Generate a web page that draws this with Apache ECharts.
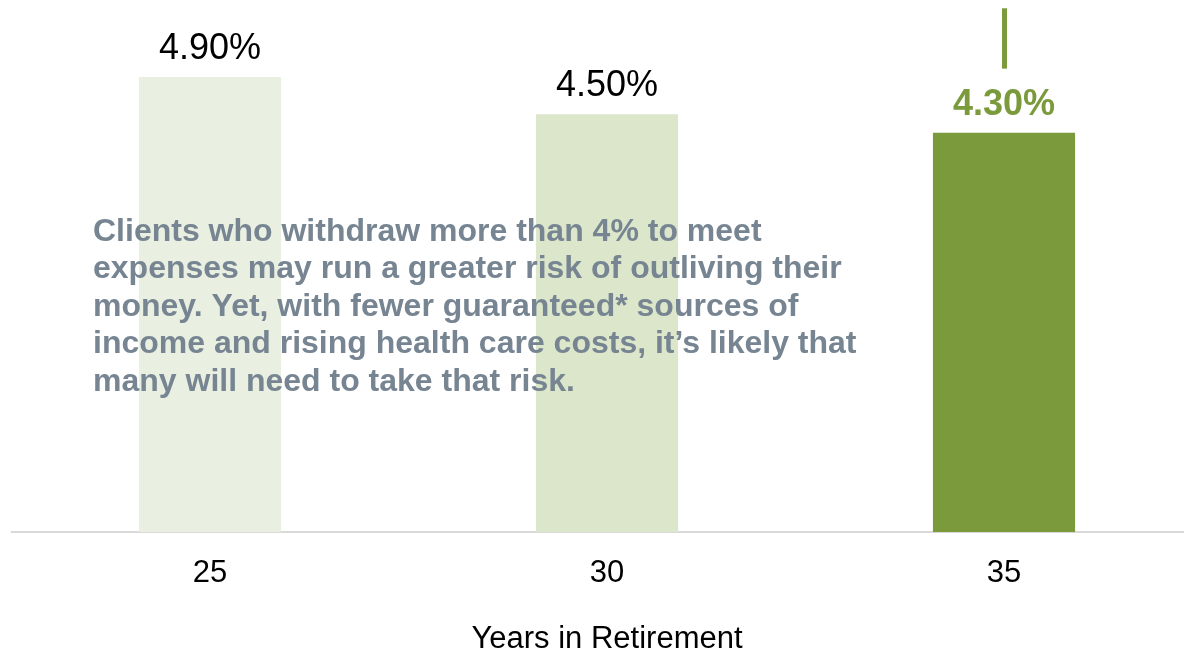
<!DOCTYPE html>
<html><head><meta charset="utf-8">
<script src="https://cdn.jsdelivr.net/npm/echarts@6/dist/echarts.min.js"></script>
<style>html,body{margin:0;padding:0;background:#fff;overflow:hidden}#c{width:1184px;height:653px}</style>
</head><body><div id="c"></div>
<script>
const categories = ['25', '30', '35'];
const values = [4.9, 4.5, 4.3];
const labels = ['4.90%', '4.50%', '4.30%'];
const barColors = ['#e9efe1', '#dce6ca', '#7a9a3c'];
const pointerLine = [4.99, 5.64];
const note = 'Clients who withdraw more than 4% to meet\nexpenses may run a greater risk of outliving their\nmoney. Yet, with fewer guaranteed* sources of\nincome and rising health care costs, it\u2019s likely that\nmany will need to take that risk.';

const chart = echarts.init(document.getElementById('c'));
const font = '"Liberation Sans", Arial, sans-serif';
chart.setOption({
  animation: false,
  grid: { left: 11.5, top: 2.7, width: 1191, height: 529.3, containLabel: false, outerBoundsMode: 'none' },
  xAxis: {
    type: 'category', data: categories,
    axisLine: { lineStyle: { color: '#d9d9d9', width: 2 } },
    axisTick: { show: false },
    axisLabel: { color: '#000', fontSize: 31, fontFamily: font, margin: 26 },
    name: 'Years in Retirement', nameLocation: 'middle', nameGap: 92,
    nameTextStyle: { color: '#000', fontSize: 31, fontFamily: font }
  },
  yAxis: { type: 'value', min: 0, max: 5.7, show: false, splitLine: { show: false } },
  series: [{
    type: 'bar', barWidth: '35.8%',
    data: values.map((v, i) => ({
      value: v,
      itemStyle: { color: barColors[i] },
      label: {
        show: true, position: 'top', distance: 10,
        formatter: labels[i], fontFamily: font,
        fontSize: 36,
        fontWeight: i === 2 ? 'bold' : 'normal',
        color: i === 2 ? '#7a9a3c' : '#000'
      }
    })),
    markLine: {
      silent: true, symbol: 'none', label: { show: false },
      lineStyle: { color: '#7a9a3c', width: 5, type: 'solid' },
      data: [[{ coord: [categories[2], pointerLine[0]] }, { coord: [categories[2], pointerLine[1]] }]]
    }
  }],
  graphic: [{
    type: 'text', left: 93, top: 213, z: 10,
    style: {
      text: note, fill: '#768591', fontFamily: font, fontWeight: 'bold',
      fontSize: 32, lineHeight: 37.6
    }
  }]
});
</script></body></html>
